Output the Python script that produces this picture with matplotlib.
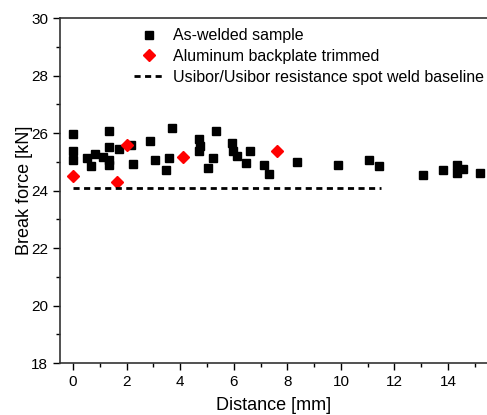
import matplotlib
matplotlib.use("Agg")
import matplotlib.pyplot as plt
from matplotlib.ticker import MultipleLocator

plt.rcParams['font.family'] = ['Liberation Sans', 'DejaVu Sans']

# As-welded sample
welded_x = [0.0, 0.0, 0.0, 0.51, 0.68, 0.82, 1.11, 1.33, 1.33, 1.35, 1.35, 1.73,
            2.16, 2.25, 2.88, 3.07, 3.48, 3.59, 3.68, 4.69, 4.74, 4.69, 5.22, 5.04,
            5.32, 5.92, 5.98, 6.13, 6.60, 6.47, 7.14, 7.32, 8.35, 9.89, 11.06, 11.42,
            13.06, 13.82, 14.32, 14.32, 14.54, 15.19]
welded_y = [25.97, 25.38, 25.07, 25.12, 24.85, 25.26, 25.18, 26.07, 25.51, 25.07, 24.89, 25.43,
            25.59, 24.91, 25.72, 25.07, 24.70, 25.12, 26.18, 25.79, 25.55, 25.38, 25.14, 24.78,
            26.06, 25.65, 25.38, 25.19, 25.37, 24.95, 24.88, 24.57, 24.98, 24.90, 25.05, 24.85,
            24.53, 24.72, 24.89, 24.60, 24.76, 24.60]

# Aluminum backplate trimmed
trimmed_x = [0.01, 1.63, 2.01, 4.12, 7.61]
trimmed_y = [24.49, 24.29, 25.59, 25.18, 25.38]

# Baseline
baseline_x = [0.0, 11.5]
baseline_y = [24.1, 24.1]

fig = plt.figure(figsize=(4.87, 4.15), dpi=100)
W, H = 487, 415
left, right, top, bottom = 60, 488, 18, 363
ax = fig.add_axes([left / W, 1 - bottom / H, (right - left) / W, (bottom - top) / H])

ax.plot(welded_x, welded_y, 's', color='black', markersize=5.8, linestyle='none',
        label='As-welded sample', clip_on=False)
ax.plot(trimmed_x, trimmed_y, 'D', color='red', markersize=6, linestyle='none',
        label='Aluminum backplate trimmed')
ax.plot(baseline_x, baseline_y, '--', color='black', linewidth=2, dashes=(2.2, 1.6),
        label='Usibor/Usibor resistance spot weld baseline')

ax.set_xlim(-0.485, 15.49)
ax.set_ylim(18, 30)
ax.xaxis.set_major_locator(MultipleLocator(2))
ax.xaxis.set_minor_locator(MultipleLocator(1))
ax.yaxis.set_major_locator(MultipleLocator(2))
ax.yaxis.set_minor_locator(MultipleLocator(1))
ax.tick_params(which='both', direction='out', top=False, right=False, labelsize=11)
ax.tick_params(which='major', length=5, width=1)
ax.tick_params(which='minor', length=3, width=1)
for s in ['left', 'bottom', 'top']:
    ax.spines[s].set_linewidth(1.2)
    ax.spines[s].set_color('#333333')
ax.spines['right'].set_visible(False)

ax.set_xlabel('Distance [mm]', fontsize=13, labelpad=6)
ax.set_ylabel('Break force [kN]', fontsize=13, labelpad=-1)

ax.legend(loc='upper left', bbox_to_anchor=(128 / W, 1 - 22 / H),
          bbox_transform=fig.transFigure, frameon=False, fontsize=11.5,
          handlelength=1.8, handletextpad=0.6, labelspacing=0.35, borderaxespad=0)

fig.savefig('out.png', dpi=100)
